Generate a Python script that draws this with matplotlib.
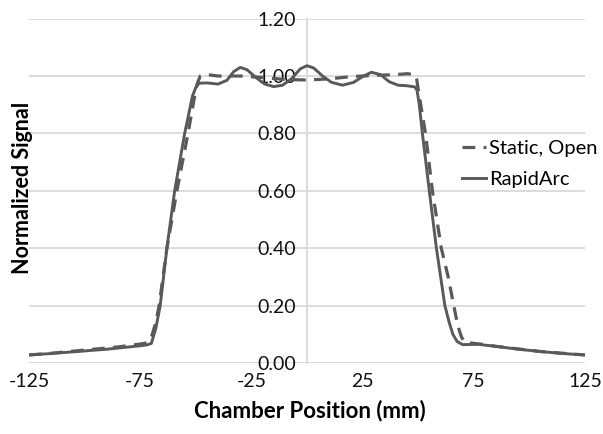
import matplotlib
matplotlib.use("Agg")
from matplotlib import pyplot as plt

plt.rcParams["font.family"] = ["Lato", "DejaVu Sans"]
plt.rcParams["axes.unicode_minus"] = False

# RapidArc profile (solid)
rapidarc_x = [-125, -115, -100, -90, -85, -80, -75, -72, -70, -68, -66, -63, -59.5, -55, -51.5,
              -50, -48.5, -45, -40, -36, -33, -30, -27, -23, -19, -15, -11, -7, -3, 0, 3, 7,
              11, 16, 21, 25, 29, 33, 37, 41, 45, 48.5, 49.5, 50.5, 51.9, 55, 58.2, 62, 64,
              65.6, 67.5, 70, 77, 85, 95, 105, 115, 125]
rapidarc_y = [0.028, 0.033, 0.042, 0.048, 0.052, 0.056, 0.060, 0.063, 0.068, 0.12, 0.20, 0.40,
              0.60, 0.80, 0.93, 0.96, 0.975, 0.976, 0.972, 0.985, 1.015, 1.030, 1.022, 0.995,
              0.972, 0.963, 0.968, 0.990, 1.025, 1.036, 1.028, 1.000, 0.978, 0.968, 0.978,
              0.998, 1.013, 1.005, 0.980, 0.968, 0.966, 0.962, 0.95, 0.90, 0.80, 0.60, 0.40,
              0.20, 0.14, 0.10, 0.075, 0.064, 0.065, 0.058, 0.048, 0.040, 0.033, 0.028]

# Static open field profile (dashed)
static_x = [-125, -115, -100, -85, -75, -72, -70, -68, -66.5, -63, -58.5, -53.5, -50.5, -49.5,
            -48, -45, -40, -30, -20, -10, 0, 10, 20, 30, 40, 45, 48.5, 49.3, 50.5, 53.3, 56.4,
            60.4, 63.5, 66, 67.8, 69.5, 71, 78, 85, 95, 105, 115, 125]
static_y = [0.028, 0.034, 0.045, 0.056, 0.066, 0.070, 0.09, 0.14, 0.20, 0.40, 0.60, 0.80,
            0.93, 0.97, 1.000, 1.005, 1.000, 1.000, 0.995, 0.988, 0.986, 0.990, 0.998, 1.002,
            1.005, 1.008, 1.005, 0.99, 0.93, 0.80, 0.60, 0.40, 0.30, 0.20, 0.13, 0.09, 0.072,
            0.066, 0.058, 0.049, 0.040, 0.034, 0.028]

x_ticks = [-125, -75, -25, 25, 75, 125]
y_ticks = [0.0, 0.2, 0.4, 0.6, 0.8, 1.0, 1.2]

line_color = "#595959"
grid_color = "#d9d9d9"

fig = plt.figure(figsize=(6.03, 4.34), dpi=100)
ax = fig.add_axes([0.0481, 0.1636, 0.922, 0.7935])

ax.plot(static_x, static_y, color=line_color, lw=2.3, dashes=(4, 2.6), label="Static, Open")
ax.plot(rapidarc_x, rapidarc_y, color=line_color, lw=2.1, label="RapidArc")

ax.set_xlim(-125, 125)
ax.set_ylim(0, 1.2)
ax.set_xticks(x_ticks)
ax.set_yticks(y_ticks)
ax.set_yticklabels([f"{v:.2f}" for v in y_ticks])
ax.yaxis.grid(True, color=grid_color, lw=1.3)
ax.set_axisbelow(True)

for side in ["top", "right", "bottom"]:
    ax.spines[side].set_visible(False)
ax.spines["left"].set_position(("data", 0))
ax.spines["left"].set_color(grid_color)
ax.spines["left"].set_linewidth(1.3)
ax.spines["left"].set_zorder(0.5)

ax.tick_params(axis="y", length=0, pad=8, labelsize=14, labelcolor="#111111")
ax.tick_params(axis="x", length=0, pad=7, labelsize=14, labelcolor="#111111")

fig.text(0.038, 0.567, "Normalized Signal", rotation=90, ha="center", va="center",
         fontsize=15.5, fontweight="bold")
fig.text(0.514, 0.055, "Chamber Position (mm)", ha="center", va="center",
         fontsize=16, fontweight="bold")

ax.legend(loc="center left", bbox_to_anchor=(0.752, 0.622), bbox_transform=fig.transFigure,
          frameon=False, fontsize=14.5, handlelength=1.2, handletextpad=0.15, labelspacing=0.7,
          borderaxespad=0)

fig.savefig("out.png", dpi=100)
